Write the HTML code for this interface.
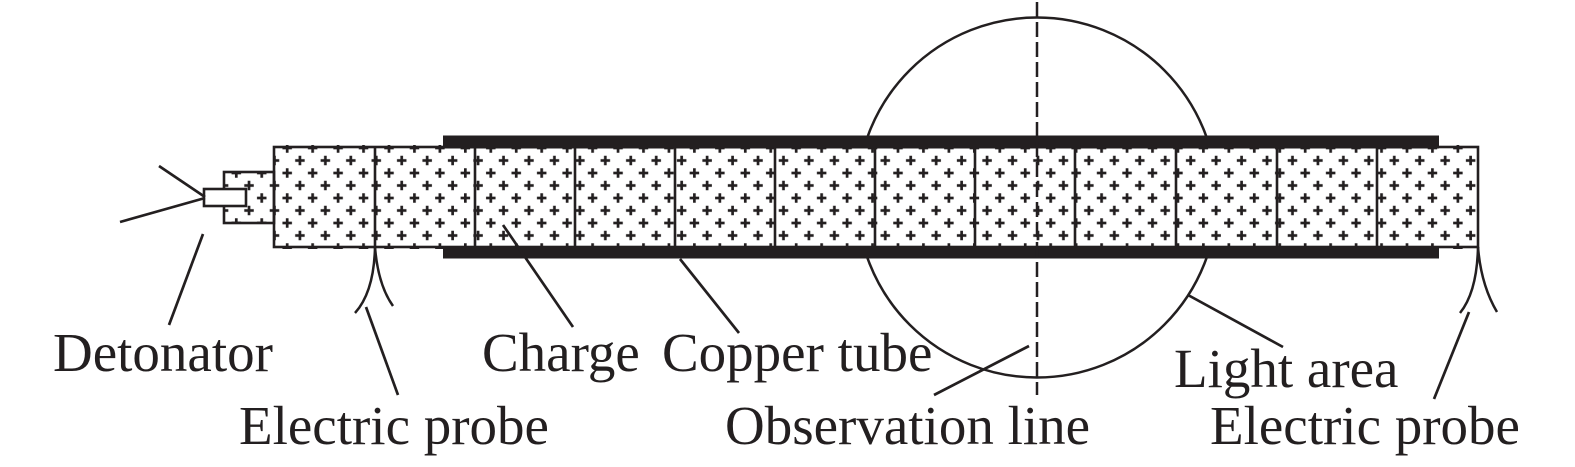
<!DOCTYPE html>
<html>
<head>
<meta charset="utf-8">
<style>
  html, body { margin: 0; padding: 0; background: #ffffff; }
  body { width: 1575px; height: 467px; overflow: hidden; }
  svg { display: block; }
  text { font-family: "Liberation Serif", "Times New Roman", serif; font-size: 55px; fill: #231f20; }
</style>
</head>
<body>
<svg width="1575" height="467" viewBox="0 0 1575 467" xmlns="http://www.w3.org/2000/svg">
  <defs>
    <pattern id="plus" patternUnits="userSpaceOnUse" x="280.85" y="141.75" width="25.45" height="25">
      <g stroke="#231f20" stroke-width="2.7" fill="none">
        <line x1="1.6" y1="6.25" x2="11.1" y2="6.25"/>
        <line x1="6.35" y1="1.5" x2="6.35" y2="11"/>
        <line x1="14.32" y1="18.75" x2="23.82" y2="18.75"/>
        <line x1="19.07" y1="14" x2="19.07" y2="23.5"/>
      </g>
    </pattern>
  </defs>

  <!-- light area circle -->
  <circle cx="1037" cy="197.5" r="180" fill="none" stroke="#231f20" stroke-width="2.5"/>

  <!-- charge white background + pattern -->
  <rect x="274" y="147" width="1204" height="100" fill="#fff"/>
  <rect x="274" y="145" width="1204" height="104" fill="url(#plus)"/>
  <!-- booster -->
  <rect x="224" y="172" width="50" height="51" fill="#fff"/>
  <rect x="224" y="172" width="50" height="51" fill="url(#plus)"/>

  <!-- borders -->
  <g fill="none" stroke="#231f20" stroke-width="2.6">
    <rect x="274" y="147" width="1204" height="100"/>
    <rect x="224" y="172" width="50" height="51"/>
    <line x1="375" y1="147" x2="375" y2="247"/>
    <line x1="475" y1="147" x2="475" y2="247"/>
    <line x1="575" y1="147" x2="575" y2="247"/>
    <line x1="675" y1="147" x2="675" y2="247"/>
    <line x1="775" y1="147" x2="775" y2="247"/>
    <line x1="875" y1="147" x2="875" y2="247"/>
    <line x1="975" y1="147" x2="975" y2="247"/>
    <line x1="1075" y1="147" x2="1075" y2="247"/>
    <line x1="1176" y1="147" x2="1176" y2="247"/>
    <line x1="1277" y1="147" x2="1277" y2="247"/>
    <line x1="1377" y1="147" x2="1377" y2="247"/>
  </g>

  <!-- detonator -->
  <rect x="204" y="189" width="42" height="17" fill="#fff" stroke="#231f20" stroke-width="2.6"/>
  <g stroke="#231f20" stroke-width="2.7" fill="none">
    <line x1="159" y1="166" x2="205" y2="197"/>
    <line x1="120" y1="222" x2="205" y2="198"/>
  </g>

  <!-- copper tube -->
  <rect x="443" y="135.5" width="996" height="13" fill="#231f20"/>
  <rect x="443" y="246" width="996" height="12.5" fill="#231f20"/>

  <!-- observation line -->
  <line x1="1037" y1="2" x2="1037" y2="395" stroke="#231f20" stroke-width="2.5" stroke-dasharray="15 5"/>

  <!-- electric probes -->
  <g stroke="#231f20" stroke-width="2.5" fill="none">
    <path d="M375,247 Q374,292 355,313"/>
    <path d="M375,247 Q378,285 393,306"/>
    <path d="M1478,247 Q1477,292 1460,313"/>
    <path d="M1478,247 Q1481,285 1497,312"/>
  </g>

  <!-- leader lines -->
  <g stroke="#231f20" stroke-width="2.7" fill="none">
    <line x1="203" y1="234" x2="169" y2="325"/>
    <line x1="366" y1="307" x2="398" y2="395"/>
    <line x1="503" y1="225" x2="573" y2="327"/>
    <line x1="680" y1="259" x2="739" y2="333"/>
    <line x1="1029" y1="346" x2="934" y2="395"/>
    <line x1="1188" y1="295" x2="1283" y2="347"/>
    <line x1="1469" y1="312" x2="1434" y2="399"/>
  </g>

  <!-- labels -->
  <text x="53" y="371">Detonator</text>
  <text x="482" y="371">Charge</text>
  <text x="662" y="371">Copper tube</text>
  <text x="1174" y="387">Light area</text>
  <text x="239" y="444">Electric probe</text>
  <text x="725" y="444">Observation line</text>
  <text x="1210" y="444">Electric probe</text>
</svg>
</body>
</html>
